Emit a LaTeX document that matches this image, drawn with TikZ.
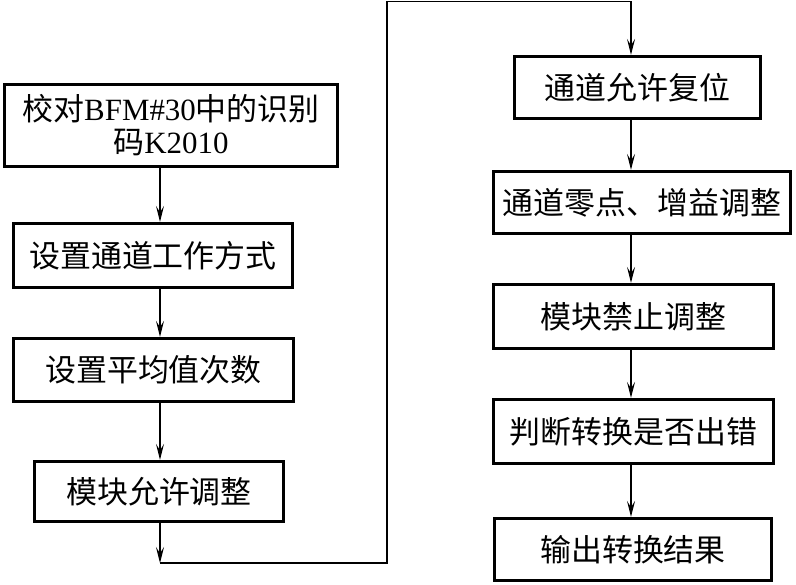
\documentclass[tikz,border=0pt]{standalone}
\usepackage{fontspec}
\setmainfont{Liberation Serif}
\newfontfamily\cjk{Noto Sans CJK SC}
\usetikzlibrary{arrows.meta, positioning, calc}
\tikzset{
  fcbox/.style={rectangle, draw=black, line width=2.2pt, fill=white,
                inner sep=2pt, align=center,
                font=\cjk\fontsize{22}{23.5}\selectfont},
  fcarrow/.style={-{Stealth[length=4mm, width=2mm, inset=1.6mm]}, line width=0.9pt},
}

\begin{document}
\begin{tikzpicture}[x=0.025cm, y=-0.025cm]
  \useasboundingbox (0,0) rectangle (796,585);
  % left column
  \node[fcbox, minimum width=8.33cm, minimum height=2.05cm] (chk) at (171,125.5)
    {校对{\rmfamily BFM\#30}中的识别\\码{\rmfamily K2010}};
  \node[fcbox, minimum width=6.98cm, minimum height=1.6cm] (mode) at (153,255.5) {设置通道工作方式};
  \node[fcbox, minimum width=7.0cm, minimum height=1.58cm] (avg) at (153.5,370) {设置平均值次数};
  \node[fcbox, minimum width=6.23cm, minimum height=1.5cm] (adjon) at (159,491.5) {模块允许调整};
  % right column
  \node[fcbox, minimum width=6.15cm, minimum height=1.55cm] (reset) at (637.5,87.5) {通道允许复位};
  \node[fcbox, minimum width=7.43cm, minimum height=1.55cm] (gain) at (642,202.5) {通道零点、增益调整};
  \node[fcbox, minimum width=7.0cm, minimum height=1.6cm] (adjoff) at (633.5,316.5) {模块禁止调整};
  \node[fcbox, minimum width=7.0cm, minimum height=1.6cm] (err) at (633.5,431.5) {判断转换是否出错};
  \node[fcbox, minimum width=6.93cm, minimum height=1.55cm] (out) at (633,549.5) {输出转换结果};
  % connector lines
  \coordinate (lx) at (160,0);
  \coordinate (rx) at (631,0);
  \coordinate (lbot) at (160,563);
  \coordinate (mtop) at (387,1.5);
  \draw[fcarrow] (chk.south -| lx) -- (mode.north -| lx);
  \draw[fcarrow] (mode.south -| lx) -- (avg.north -| lx);
  \draw[fcarrow] (avg.south -| lx) -- (adjon.north -| lx);
  \draw[fcarrow] (adjon.south -| lx) -- (lbot);
  \draw[fcarrow] (lbot) -| (mtop) -| (reset.north -| rx);
  \draw[fcarrow] (reset.south -| rx) -- (gain.north -| rx);
  \draw[fcarrow] (gain.south -| rx) -- (adjoff.north -| rx);
  \draw[fcarrow] (adjoff.south -| rx) -- (err.north -| rx);
  \draw[fcarrow] (err.south -| rx) -- (out.north -| rx);
\end{tikzpicture}
\end{document}
